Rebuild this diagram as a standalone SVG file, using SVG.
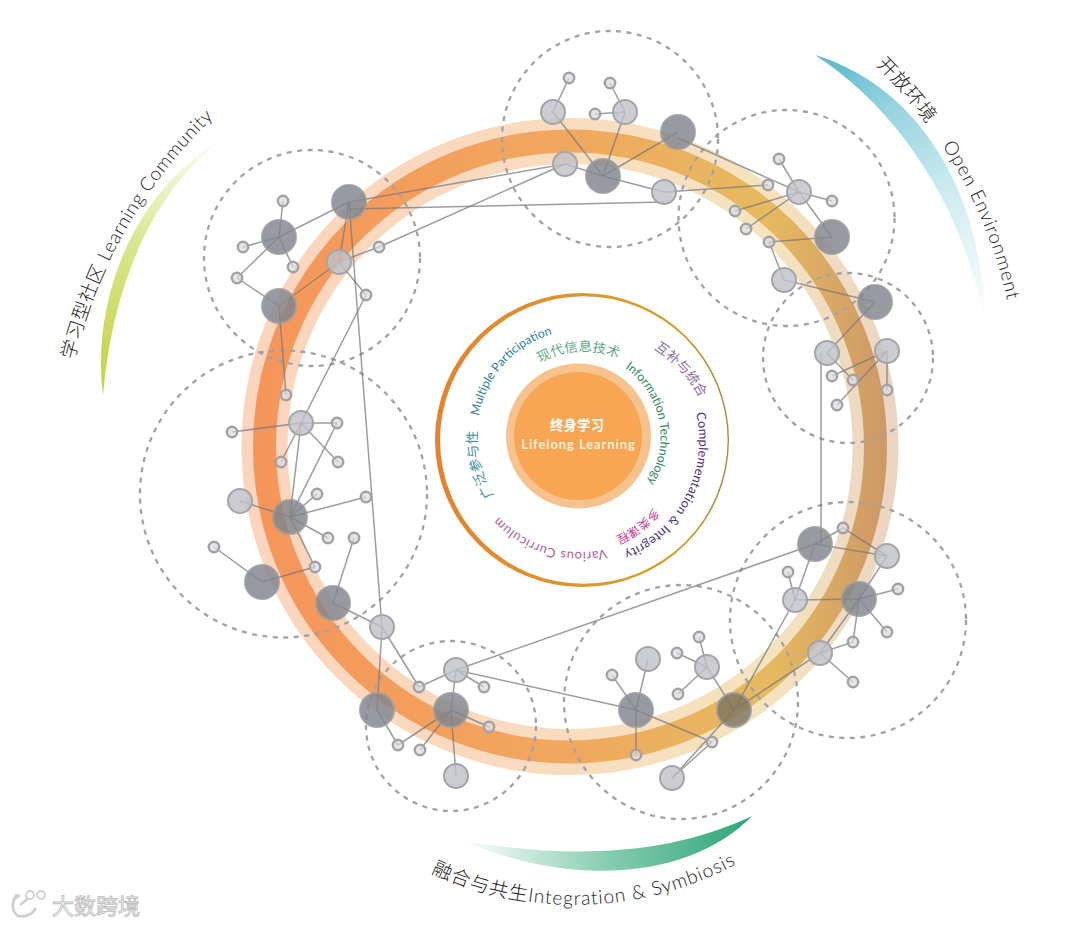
<svg xmlns="http://www.w3.org/2000/svg" width="1080" height="925" viewBox="0 0 1080 925">
<style>
.lk{stroke:#77777a;stroke-width:1.5;stroke-opacity:.72;fill:none}
.d{fill:none;stroke:#a3a1a7;stroke-width:2.3;stroke-dasharray:5 5.5}
.L{fill:#80858c;fill-opacity:.82;stroke:#9a9ca2;stroke-opacity:.85;stroke-width:2}
.M{fill:#bfc1c8;fill-opacity:.8;stroke:#a3a5a9;stroke-width:2}
.S{fill:#d9dade;fill-opacity:.7;stroke:#a2a2a4;stroke-width:2.4}
text{font-family:Lato,"Noto Sans CJK SC",sans-serif}
.o{font-size:19px;fill:#222;font-weight:300;letter-spacing:.6px}
</style>
<defs>
<linearGradient id="rg" gradientUnits="userSpaceOnUse" x1="240" y1="446" x2="900" y2="446">
<stop offset="0" stop-color="#f6945a"/><stop offset=".5" stop-color="#f0a85e"/><stop offset=".8" stop-color="#e6ba60"/><stop offset="1" stop-color="#cb9468"/>
</linearGradient>
<linearGradient id="ig" gradientUnits="userSpaceOnUse" x1="436" y1="440" x2="729" y2="440">
<stop offset="0" stop-color="#e6822c"/><stop offset=".6" stop-color="#dc9a30"/><stop offset=".85" stop-color="#d0a52c"/><stop offset="1" stop-color="#a98745"/>
</linearGradient>
<linearGradient id="yg" gradientUnits="userSpaceOnUse" x1="103" y1="395" x2="228" y2="135">
<stop offset="0" stop-color="#c2d33c"/><stop offset=".5" stop-color="#d9e58c"/><stop offset="1" stop-color="#fff"/>
</linearGradient>
<linearGradient id="bg" gradientUnits="userSpaceOnUse" x1="815" y1="55" x2="985" y2="325">
<stop offset="0" stop-color="#56b6c6"/><stop offset=".25" stop-color="#93d2df"/><stop offset=".6" stop-color="#d0edf2"/><stop offset="1" stop-color="#fff"/>
</linearGradient>
<linearGradient id="gg" gradientUnits="userSpaceOnUse" x1="752" y1="816" x2="460" y2="840">
<stop offset="0" stop-color="#2ca577"/><stop offset=".5" stop-color="#86ccaf"/><stop offset="1" stop-color="#fff"/>
</linearGradient>
<path id="t1" d="M479,416 A103,103 0 0 1 632,344"/>
<path id="t2" d="M540,363 A86,86 0 0 1 625,362"/>
<path id="t3" d="M654,349 A125,125 0 0 1 705,410"/>
<path id="t4" d="M625,368 A84,84 0 0 1 593,519"/>
<path id="t5" d="M696,413 A120,120 0 0 1 590,560"/>
<path id="t6" d="M654,508 A108,108 0 0 1 600,542"/>
<path id="t7" d="M606,549 A112,112 0 0 1 480,490"/>
<path id="t8" d="M494,495 A100,100 0 0 1 479,420"/>
<path id="t9" d="M74,360 A500,500 0 0 1 235,98"/>
<path id="t10" d="M876,65 A470,470 0 0 1 1012,325"/>
<path id="t11" d="M431,873 A340,340 0 0 0 760,850"/>
</defs>

<g id="ring">
<circle cx="570" cy="446.5" r="305.5" fill="none" stroke="url(#rg)" stroke-width="46" stroke-opacity=".4"/>
<circle cx="570" cy="446.5" r="305.5" fill="none" stroke="url(#rg)" stroke-width="23"/>
</g>

<g id="swooshes">
<path d="M103,395 C92,310 125,195 228,135 C150,190 112,290 103,395Z" fill="url(#yg)"/>
<path d="M815,55 C930,90 985,210 985,325 C965,210 900,110 815,55Z" fill="url(#bg)"/>
<path d="M752,816 C700,870 590,895 460,840 C570,860 670,855 752,816Z" fill="url(#gg)"/>
</g>

<g id="center">
<path d="M435,440a147,147 0 1 0 294,0a147,147 0 1 0-294,0ZM440,440a143.8,143.8 0 1 0 287.6,0a143.8,143.8 0 1 0-287.6,0Z" fill="url(#ig)" fill-rule="evenodd"/>
<circle cx="578.5" cy="436" r="72.5" fill="#f6c38f"/>
<circle cx="578" cy="436" r="64" fill="#f8a654"/>
<text x="577" y="430" text-anchor="middle" font-size="13.5" font-weight="700" fill="#fff">终身学习</text>
<text x="578.5" y="449" text-anchor="middle" font-size="13" font-weight="700" fill="#fdeedd" letter-spacing=".9">Lifelong Learning</text>
</g>

<g id="inner-labels">
<text font-size="12.2" fill="#2b7f9c"><textPath href="#t1">Multiple Participation</textPath></text>
<text font-size="13.5" fill="#5fa883"><textPath href="#t2">现代信息技术</textPath></text>
<text font-size="13.5" fill="#8d6ea6"><textPath href="#t3">互补与统合</textPath></text>
<text font-size="12.4" fill="#2f8a60"><textPath href="#t4">Information Technology</textPath></text>
<text font-size="12.7" fill="#4d2f80" letter-spacing=".3"><textPath href="#t5">Complementation &amp; Integrity</textPath></text>
<text font-size="12" fill="#c63f97"><textPath href="#t6">多类课程</textPath></text>
<text font-size="13" fill="#b0609e" letter-spacing=".5"><textPath href="#t7">Various Curriculum</textPath></text>
<text font-size="13.5" fill="#3a8fa2"><textPath href="#t8">广泛参与性</textPath></text>
</g>

<g id="outer-labels">
<text class="o"><textPath href="#t9">学习型社区 Learning Community</textPath></text>
<text class="o"><textPath href="#t10">开放环境<tspan dx="20" letter-spacing=".9"> Open Environment</tspan></textPath></text>
<text class="o" style="font-size:19.3px;letter-spacing:.9px"><textPath href="#t11">融合与共生Integration &amp; Symbiosis</textPath></text>
</g>

<g id="dashed-circles">
<circle class="d" cx="312" cy="258" r="108"/>
<circle class="d" cx="283.5" cy="494" r="143.5"/>
<circle class="d" cx="610" cy="139" r="108"/>
<circle class="d" cx="786.5" cy="218" r="108"/>
<circle class="d" cx="848" cy="358" r="85"/>
<circle class="d" cx="848" cy="620" r="118"/>
<circle class="d" cx="681" cy="702" r="117"/>
<circle class="d" cx="451" cy="726" r="85"/>
</g>

<g id="connectors">
<line class="lk" x1="349" y1="202" x2="279" y2="237"/>
<line class="lk" x1="279" y1="237" x2="283" y2="201"/>
<line class="lk" x1="279" y1="237" x2="243" y2="247"/>
<line class="lk" x1="279" y1="237" x2="293" y2="267"/>
<line class="lk" x1="279" y1="237" x2="237" y2="278"/>
<line class="lk" x1="237" y1="278" x2="279" y2="306"/>
<line class="lk" x1="279" y1="306" x2="339" y2="262"/>
<line class="lk" x1="349" y1="202" x2="339" y2="262"/>
<line class="lk" x1="339" y1="262" x2="379" y2="247"/>
<line class="lk" x1="339" y1="262" x2="366" y2="295"/>
<line class="lk" x1="349" y1="202" x2="565" y2="164"/>
<line class="lk" x1="349" y1="209" x2="664" y2="202"/>
<line class="lk" x1="349" y1="202" x2="382" y2="627"/>
<line class="lk" x1="379" y1="247" x2="565" y2="164"/>
<line class="lk" x1="366" y1="295" x2="301" y2="423"/>
<line class="lk" x1="279" y1="306" x2="286" y2="395"/>
<line class="lk" x1="301" y1="423" x2="232" y2="432"/>
<line class="lk" x1="301" y1="423" x2="337" y2="423"/>
<line class="lk" x1="301" y1="423" x2="281" y2="462"/>
<line class="lk" x1="301" y1="423" x2="338" y2="462"/>
<line class="lk" x1="301" y1="423" x2="290" y2="517"/>
<line class="lk" x1="337" y1="423" x2="290" y2="517"/>
<line class="lk" x1="290" y1="517" x2="240" y2="501"/>
<line class="lk" x1="290" y1="517" x2="317" y2="494"/>
<line class="lk" x1="290" y1="517" x2="366" y2="497"/>
<line class="lk" x1="290" y1="517" x2="328" y2="538"/>
<line class="lk" x1="290" y1="517" x2="315" y2="567"/>
<line class="lk" x1="262" y1="582" x2="214" y2="547"/>
<line class="lk" x1="262" y1="582" x2="315" y2="567"/>
<line class="lk" x1="333" y1="603" x2="354" y2="538"/>
<line class="lk" x1="333" y1="603" x2="382" y2="627"/>
<line class="lk" x1="382" y1="627" x2="377" y2="710"/>
<line class="lk" x1="382" y1="627" x2="419" y2="687"/>
<line class="lk" x1="456" y1="670" x2="419" y2="687"/>
<line class="lk" x1="456" y1="670" x2="484" y2="687"/>
<line class="lk" x1="456" y1="670" x2="451" y2="710"/>
<line class="lk" x1="451" y1="710" x2="489" y2="727"/>
<line class="lk" x1="451" y1="710" x2="398" y2="745"/>
<line class="lk" x1="451" y1="710" x2="420" y2="750"/>
<line class="lk" x1="451" y1="710" x2="456" y2="776"/>
<line class="lk" x1="377" y1="710" x2="398" y2="745"/>
<line class="lk" x1="456" y1="670" x2="815" y2="544"/>
<line class="lk" x1="456" y1="670" x2="636" y2="710"/>
<line class="lk" x1="636" y1="710" x2="648" y2="659"/>
<line class="lk" x1="636" y1="710" x2="612" y2="675"/>
<line class="lk" x1="636" y1="710" x2="636" y2="755"/>
<line class="lk" x1="636" y1="710" x2="712" y2="742"/>
<line class="lk" x1="712" y1="742" x2="672" y2="778"/>
<line class="lk" x1="672" y1="778" x2="734" y2="710"/>
<line class="lk" x1="707" y1="667" x2="677" y2="653"/>
<line class="lk" x1="707" y1="667" x2="699" y2="637"/>
<line class="lk" x1="707" y1="667" x2="678" y2="694"/>
<line class="lk" x1="707" y1="667" x2="734" y2="710"/>
<line class="lk" x1="734" y1="710" x2="795" y2="600"/>
<line class="lk" x1="734" y1="710" x2="820" y2="653"/>
<line class="lk" x1="815" y1="544" x2="843" y2="528"/>
<line class="lk" x1="843" y1="528" x2="887" y2="556"/>
<line class="lk" x1="815" y1="544" x2="887" y2="556"/>
<line class="lk" x1="815" y1="544" x2="795" y2="600"/>
<line class="lk" x1="887" y1="556" x2="859" y2="599"/>
<line class="lk" x1="795" y1="600" x2="788" y2="572"/>
<line class="lk" x1="795" y1="600" x2="859" y2="599"/>
<line class="lk" x1="859" y1="599" x2="898" y2="589"/>
<line class="lk" x1="859" y1="599" x2="887" y2="632"/>
<line class="lk" x1="859" y1="599" x2="853" y2="642"/>
<line class="lk" x1="859" y1="599" x2="820" y2="653"/>
<line class="lk" x1="820" y1="653" x2="853" y2="642"/>
<line class="lk" x1="820" y1="653" x2="853" y2="682"/>
<line class="lk" x1="821" y1="353" x2="821" y2="544"/>
<line class="lk" x1="875" y1="302" x2="827" y2="353"/>
<line class="lk" x1="827" y1="353" x2="853" y2="380"/>
<line class="lk" x1="887" y1="351" x2="832" y2="376"/>
<line class="lk" x1="887" y1="351" x2="837" y2="405"/>
<line class="lk" x1="887" y1="351" x2="887" y2="390"/>
<line class="lk" x1="784" y1="280" x2="875" y2="302"/>
<line class="lk" x1="799" y1="192" x2="779" y2="159"/>
<line class="lk" x1="799" y1="192" x2="832" y2="201"/>
<line class="lk" x1="799" y1="192" x2="832" y2="237"/>
<line class="lk" x1="799" y1="192" x2="735" y2="211"/>
<line class="lk" x1="799" y1="192" x2="746" y2="229"/>
<line class="lk" x1="799" y1="192" x2="678" y2="138"/>
<line class="lk" x1="832" y1="237" x2="769" y2="242"/>
<line class="lk" x1="769" y1="242" x2="784" y2="280"/>
<line class="lk" x1="664" y1="192" x2="768" y2="185"/>
<line class="lk" x1="553" y1="112" x2="569" y2="78"/>
<line class="lk" x1="553" y1="112" x2="603" y2="176"/>
<line class="lk" x1="625" y1="112" x2="610" y2="83"/>
<line class="lk" x1="625" y1="112" x2="595" y2="114"/>
<line class="lk" x1="625" y1="112" x2="603" y2="176"/>
<line class="lk" x1="678" y1="132" x2="603" y2="176"/>
<line class="lk" x1="565" y1="164" x2="603" y2="176"/>
<line class="lk" x1="603" y1="176" x2="664" y2="192"/>
</g>

<g id="nodes">
<g id="a1"><circle class="L" cx="349" cy="202" r="17"/></g>
<g id="a2"><circle class="L" cx="279" cy="237" r="17"/></g>
<g id="a3"><circle class="L" cx="279" cy="306" r="17"/></g>
<g id="a4"><circle class="M" cx="339" cy="262" r="12"/></g>
<g id="a5"><circle class="S" cx="283" cy="201" r="5.2"/></g>
<g id="a6"><circle class="S" cx="243" cy="247" r="5.2"/></g>
<g id="a7"><circle class="S" cx="293" cy="267" r="5.2"/></g>
<g id="a8"><circle class="S" cx="237" cy="278" r="5.2"/></g>
<g id="a9"><circle class="S" cx="379" cy="247" r="5.2"/></g>
<g id="a10"><circle class="S" cx="366" cy="295" r="5.2"/></g>
<g id="b1"><circle class="M" cx="301" cy="423" r="12"/></g>
<g id="b2"><circle class="S" cx="286" cy="395" r="5.2"/></g>
<g id="b3"><circle class="S" cx="232" cy="432" r="5.2"/></g>
<g id="b4"><circle class="S" cx="337" cy="423" r="5.2"/></g>
<g id="b5"><circle class="S" cx="281" cy="462" r="5.2"/></g>
<g id="b6"><circle class="S" cx="338" cy="462" r="5.2"/></g>
<g id="b7"><circle class="M" cx="240" cy="501" r="12"/></g>
<g id="b8"><circle class="L" cx="290" cy="517" r="17"/></g>
<g id="b9"><circle class="S" cx="317" cy="494" r="5.2"/></g>
<g id="b10"><circle class="S" cx="366" cy="497" r="5.2"/></g>
<g id="b11"><circle class="S" cx="328" cy="538" r="5.2"/></g>
<g id="b12"><circle class="S" cx="354" cy="538" r="5.2"/></g>
<g id="b13"><circle class="S" cx="214" cy="547" r="5.2"/></g>
<g id="b14"><circle class="L" cx="262" cy="582" r="17"/></g>
<g id="b15"><circle class="S" cx="315" cy="567" r="5.2"/></g>
<g id="b16"><circle class="L" cx="333" cy="603" r="17"/></g>
<g id="b17"><circle class="M" cx="382" cy="627" r="12"/></g>
<g id="c1"><circle class="L" cx="377" cy="710" r="17"/></g>
<g id="c2"><circle class="L" cx="451" cy="710" r="17"/></g>
<g id="c3"><circle class="M" cx="456" cy="670" r="12"/></g>
<g id="c4"><circle class="M" cx="456" cy="776" r="12"/></g>
<g id="c5"><circle class="S" cx="419" cy="687" r="5.2"/></g>
<g id="c6"><circle class="S" cx="484" cy="687" r="5.2"/></g>
<g id="c7"><circle class="S" cx="489" cy="727" r="5.2"/></g>
<g id="c8"><circle class="S" cx="398" cy="745" r="5.2"/></g>
<g id="c9"><circle class="S" cx="420" cy="750" r="5.2"/></g>
<g id="d1"><circle class="L" cx="636" cy="710" r="17"/></g>
<g id="d2"><circle class="M" cx="648" cy="659" r="12"/></g>
<g id="d3"><circle class="S" cx="612" cy="675" r="5.2"/></g>
<g id="d4"><circle class="S" cx="636" cy="755" r="5.2"/></g>
<g id="d5"><circle class="S" cx="712" cy="742" r="5.2"/></g>
<g id="d6"><circle class="M" cx="672" cy="778" r="12"/></g>
<g id="d7"><circle class="M" cx="707" cy="667" r="12"/></g>
<g id="d8"><circle class="S" cx="677" cy="653" r="5.2"/></g>
<g id="d9"><circle class="S" cx="699" cy="637" r="5.2"/></g>
<g id="d10"><circle class="S" cx="678" cy="694" r="5.2"/></g>
<g id="d11"><circle class="L" cx="734" cy="710" r="17" style="fill:#7d7560"/></g>
<g id="e1"><circle class="L" cx="815" cy="544" r="17"/></g>
<g id="e2"><circle class="S" cx="843" cy="528" r="5.2"/></g>
<g id="e3"><circle class="M" cx="887" cy="556" r="12"/></g>
<g id="e4"><circle class="S" cx="788" cy="572" r="5.2"/></g>
<g id="e5"><circle class="M" cx="795" cy="600" r="12"/></g>
<g id="e6"><circle class="L" cx="859" cy="599" r="17"/></g>
<g id="e7"><circle class="S" cx="898" cy="589" r="5.2"/></g>
<g id="e8"><circle class="S" cx="887" cy="632" r="5.2"/></g>
<g id="e9"><circle class="S" cx="853" cy="642" r="5.2"/></g>
<g id="e10"><circle class="M" cx="820" cy="653" r="12"/></g>
<g id="e11"><circle class="S" cx="853" cy="682" r="5.2"/></g>
<g id="f1"><circle class="L" cx="875" cy="302" r="17"/></g>
<g id="f2"><circle class="M" cx="827" cy="353" r="12"/></g>
<g id="f3"><circle class="M" cx="887" cy="351" r="12"/></g>
<g id="f4"><circle class="S" cx="832" cy="376" r="5.2"/></g>
<g id="f5"><circle class="S" cx="853" cy="380" r="5.2"/></g>
<g id="f6"><circle class="S" cx="887" cy="390" r="5.2"/></g>
<g id="f7"><circle class="S" cx="837" cy="405" r="5.2"/></g>
<g id="h1"><circle class="M" cx="799" cy="192" r="12"/></g>
<g id="h2"><circle class="S" cx="779" cy="159" r="5.2"/></g>
<g id="h3"><circle class="S" cx="832" cy="201" r="5.2"/></g>
<g id="h4"><circle class="L" cx="832" cy="237" r="17"/></g>
<g id="h5"><circle class="S" cx="768" cy="185" r="5.2"/></g>
<g id="h6"><circle class="S" cx="735" cy="211" r="5.2"/></g>
<g id="h7"><circle class="S" cx="746" cy="229" r="5.2"/></g>
<g id="h8"><circle class="S" cx="769" cy="242" r="5.2"/></g>
<g id="h9"><circle class="M" cx="784" cy="280" r="12"/></g>
<g id="j1"><circle class="M" cx="553" cy="112" r="12"/></g>
<g id="j2"><circle class="S" cx="569" cy="78" r="5.2"/></g>
<g id="j3"><circle class="S" cx="610" cy="83" r="5.2"/></g>
<g id="j4"><circle class="S" cx="595" cy="114" r="5.2"/></g>
<g id="j5"><circle class="M" cx="625" cy="112" r="12"/></g>
<g id="j6"><circle class="L" cx="678" cy="132" r="17"/></g>
<g id="j7"><circle class="M" cx="565" cy="164" r="12"/></g>
<g id="j8"><circle class="L" cx="603" cy="176" r="17"/></g>
<g id="j9"><circle class="M" cx="664" cy="192" r="12"/></g>
</g>

<g id="watermark">
<path d="M17,894 Q8,908 18,916 Q30,918 36,908 M13,900 L20,895 M20,905 L30,897" fill="none" stroke="#cfcfcf" stroke-width="2.6"/>
<circle cx="30" cy="895" r="4" fill="#fff" stroke="#cfcfcf" stroke-width="1.8"/>
<circle cx="41" cy="895" r="4" fill="#fff" stroke="#cfcfcf" stroke-width="1.8"/>
<text x="52" y="914" font-size="22" fill="#fff" stroke="#bdbdbd" stroke-width=".9">大数跨境</text>
</g>
</svg>
